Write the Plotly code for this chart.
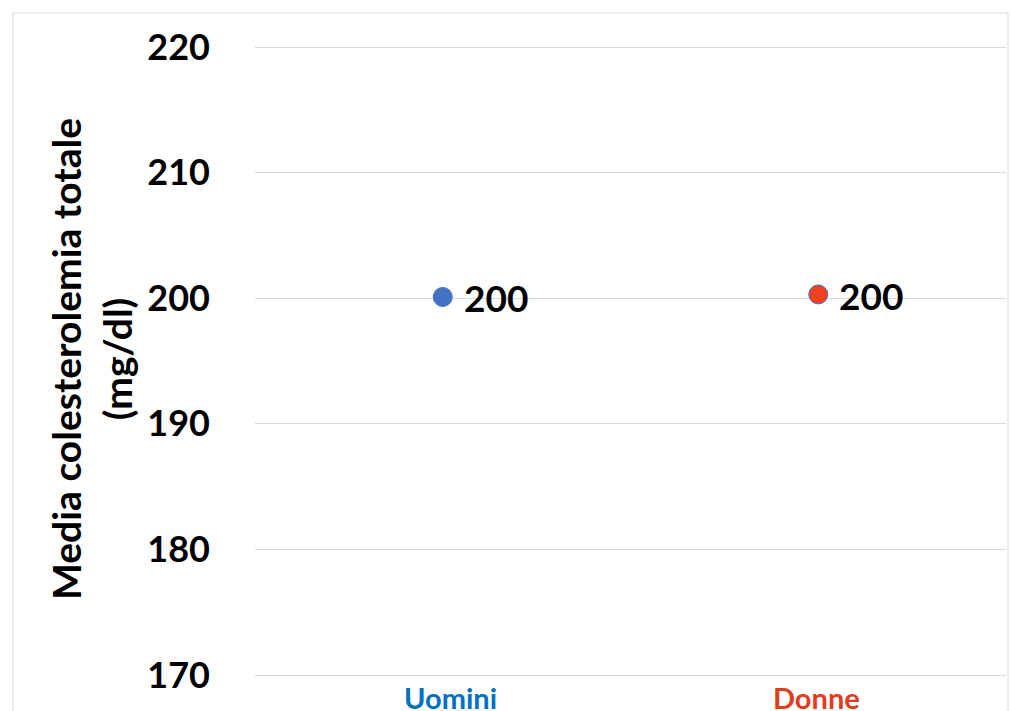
import plotly.graph_objects as go

categories = ["Uomini", "Donne"]
values = [200.1, 200.3]
labels = ["200", "200"]
marker_colors = ["#4472C4", "#EE4220"]
outline_colors = ["#4472C4", "#4472C4"]
cat_colors = ["#0070C0", "#E03C1E"]
cat_shift = [8, -2]
y_ticks = [170, 180, 190, 200, 210, 220]

FONT = "Lato"
W, H = 1010, 711
ml, mr, mt, mb = 255, 4, 43, 32
pw, ph = W - ml - mr, H - mt - mb
ppu = 12.56  # pixels per unit
y_top = 220 + (47 - mt) / ppu
y_bot = 170 - (H - mb - 675) / ppu

fig = go.Figure()
for i, c in enumerate(categories):
    fig.add_trace(go.Scatter(
        x=[c], y=[values[i]], mode="markers",
        marker=dict(size=19, color=marker_colors[i],
                    line=dict(color=outline_colors[i], width=1)),
        showlegend=False, cliponaxis=False,
    ))
    fig.add_annotation(
        x=c, y=values[i], text=labels[i], showarrow=False,
        xanchor="left", yanchor="middle", xshift=19, yshift=-1,
        font=dict(family=FONT, size=37, color="black", weight="bold"),
    )

def px(x):
    return (x - ml) / pw

def py(y):
    return (H - mb - y) / ph

for i, c in enumerate(categories):
    fig.add_annotation(
        x=c, xref="x", yref="paper", y=py(697), text=c, showarrow=False,
        xanchor="center", yanchor="middle", xshift=cat_shift[i],
        font=dict(family=FONT, size=29, color=cat_colors[i], weight="bold"),
    )

fig.add_shape(type="rect", xref="paper", yref="paper",
              x0=px(13), x1=px(1008), y0=py(760), y1=py(13),
              line=dict(color="#D9D9D9", width=1), layer="below")

fig.add_annotation(
    text="Media colesterolemia totale<br>(mg/dl)", textangle=-90,
    xref="paper", yref="paper", x=px(91), y=py(359),
    showarrow=False, xanchor="center", yanchor="middle",
    font=dict(family=FONT, size=39, color="black", weight="bold"),
)

fig.update_xaxes(
    type="category", categoryorder="array", categoryarray=categories,
    range=[-0.5, 1.5], showgrid=False, zeroline=False, showline=False,
    showticklabels=False, ticks="",
)
fig.update_yaxes(
    range=[y_bot, y_top], tickvals=y_ticks, showgrid=True, gridcolor="#D9D9D9",
    gridwidth=1, zeroline=False, showline=False, ticks="",
    tickfont=dict(family=FONT, size=36, color="black", weight="bold"),
    ticklabelstandoff=44,
)
fig.update_layout(
    width=W, height=H, margin=dict(l=ml, r=mr, t=mt, b=mb, autoexpand=False),
    paper_bgcolor="white", plot_bgcolor="white",
)
fig.write_html("out.html", config={"displayModeBar": False},
               post_script="document.body.style.margin='0';document.body.style.overflow='hidden';")
